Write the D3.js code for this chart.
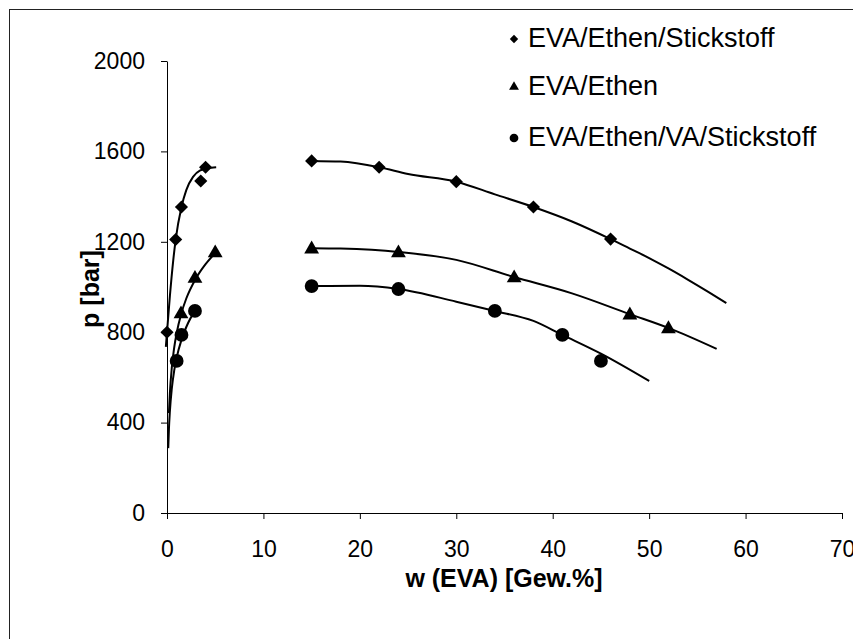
<!DOCTYPE html>
<head>
  <meta charset="utf-8">
  <script src="https://d3js.org/d3.v7.min.js"></script>
  <style>
    body { margin: 0; background: #fff; }
    svg { display: block; }
    .tick text { font: 23px "Liberation Sans", Arial, sans-serif; fill: #000; }
    .axis-title { font: bold 25px "Liberation Sans", Arial, sans-serif; }
    .legend text { font: 27px "Liberation Sans", Arial, sans-serif; }
    .fit { fill: none; stroke: #000; stroke-width: 2px; }
  </style>
</head>
<body>
<script>
// measured points
var diamondX  = [0, 0.9, 1.5, 3.5, 4, 15, 22, 30, 38, 46];
var diamondP  = [800, 1210, 1354, 1469, 1530, 1558, 1530, 1466, 1354, 1212];
var triangleX = [1.45, 2.9, 5, 15, 24, 36, 48, 52];
var triangleP = [885, 1042, 1155, 1172, 1155, 1044, 880, 819];
var circleX   = [1, 1.5, 2.9, 15, 24, 34, 41, 45];
var circleP   = [673, 788, 894, 1004, 991, 894, 788, 673];

// trend lines
var diamondFitLeftX  = [-0.12, 0, 0.3, 0.65, 0.9, 1.5, 2, 2.7, 3.4, 4.6, 5.1];
var diamondFitLeftP  = [735, 800, 960, 1119, 1210, 1354, 1429, 1487, 1515, 1528, 1530];
var diamondFitRightX = [15, 18, 22, 25, 30, 34, 38, 42, 46, 48, 50, 52, 54, 56, 58];
var diamondFitRightP = [1558, 1555, 1530, 1500, 1466, 1410, 1354, 1290, 1212, 1170, 1128, 1082, 1033, 982, 929];

var triangleFitLeftX  = [0.2, 0.3, 0.5, 0.75, 1, 1.5, 2, 3, 4, 5];
var triangleFitLeftP  = [442, 531, 644, 733, 796, 885, 949, 1038, 1101, 1150];
var triangleFitRightX = [15, 18, 24, 30, 36, 42, 48, 52, 57];
var triangleFitRightP = [1172, 1170, 1155, 1120, 1044, 972, 880, 819, 726];

var circleFitLeftX  = [0.13, 0.2, 0.3, 0.5, 0.75, 1, 1.5, 2, 3];
var circleFitLeftP  = [287, 372, 451, 551, 631, 687, 766, 823, 902];
var circleFitRightX = [15, 20, 24, 30, 34, 38, 41, 45, 50];
var circleFitRightP = [1004, 1005, 991, 935, 894, 850, 788, 705, 584];

var xTicks = [0, 10, 20, 30, 40, 50, 60, 70];
var yTicks = [0, 400, 800, 1200, 1600, 2000];

var legendLabels = ['EVA/Ethen/Stickstoff', 'EVA/Ethen', 'EVA/Ethen/VA/Stickstoff'];

var width = 853, height = 639;

var svg = d3.select('body').append('svg')
  .attr('width', width)
  .attr('height', height);

// outer frame (only left and top edges visible)
svg.append('rect')
  .attr('x', 9.5).attr('y', 9.5)
  .attr('width', 1000).attr('height', 1000)
  .attr('fill', 'none')
  .attr('stroke', '#222')
  .attr('stroke-width', 1);

var x = d3.scaleLinear().domain([0, 70]).range([167, 842]);
var y = d3.scaleLinear().domain([0, 2000]).range([513, 61]);

var xAxis = d3.axisBottom(x).tickValues(xTicks).tickSize(6).tickPadding(22)
  .tickSizeOuter(0).tickFormat(d3.format('d'));
var yAxis = d3.axisLeft(y).tickValues(yTicks).tickSize(6).tickPadding(16)
  .tickSizeOuter(0).tickFormat(d3.format('d'));

svg.append('g').attr('transform', 'translate(0,513)').call(xAxis);
svg.append('g').attr('transform', 'translate(167,0)').call(yAxis);
svg.selectAll('.domain').attr('stroke', '#000');
svg.selectAll('.tick line').attr('stroke', '#000');

svg.append('text')
  .attr('class', 'axis-title')
  .attr('x', 504).attr('y', 587)
  .attr('text-anchor', 'middle')
  .text('w (EVA) [Gew.%]');

svg.append('text')
  .attr('class', 'axis-title')
  .attr('transform', 'translate(99,289) rotate(-90)')
  .attr('text-anchor', 'middle')
  .text('p [bar]');

var line = d3.line()
  .x(function(d) { return x(d[0]); })
  .y(function(d) { return y(d[1]); })
  .curve(d3.curveMonotoneX);

function pairs(xs, ps) { return xs.map(function(v, i) { return [v, ps[i]]; }); }

var fits = [
  pairs(diamondFitLeftX, diamondFitLeftP),
  pairs(diamondFitRightX, diamondFitRightP),
  pairs(triangleFitLeftX, triangleFitLeftP),
  pairs(triangleFitRightX, triangleFitRightP),
  pairs(circleFitLeftX, circleFitLeftP),
  pairs(circleFitRightX, circleFitRightP)
];

svg.selectAll('path.fit')
  .data(fits)
  .enter().append('path')
  .attr('class', 'fit')
  .attr('d', line);

var sym = {
  diamond: d3.symbol().type(d3.symbolDiamond2).size(110),
  triangle: d3.symbol().type(d3.symbolTriangle).size(95),
  circle: d3.symbol().type(d3.symbolCircle).size(150)
};

function drawMarks(xs, ps, shape, dy) {
  svg.append('g').selectAll('path')
    .data(pairs(xs, ps))
    .enter().append('path')
    .attr('transform', function(d) { return 'translate(' + x(d[0]) + ',' + (y(d[1]) + dy) + ')'; })
    .attr('d', sym[shape])
    .attr('fill', '#000');
}
drawMarks(diamondX, diamondP, 'diamond', 0);
drawMarks(triangleX, triangleP, 'triangle', 1);
drawMarks(circleX, circleP, 'circle', 0);

// legend
var legendShapes = ['diamond', 'triangle', 'circle'];
var legendSyms = {
  diamond: d3.symbol().type(d3.symbolDiamond2).size(45),
  triangle: d3.symbol().type(d3.symbolTriangle).size(42),
  circle: d3.symbol().type(d3.symbolCircle).size(60)
};
var legendY = [37, 85, 136];
var legend = svg.append('g').attr('class', 'legend');
legendLabels.forEach(function(lbl, i) {
  legend.append('path')
    .attr('transform', 'translate(514,' + (legendY[i] + 2) + ')')
    .attr('d', legendSyms[legendShapes[i]])
    .attr('fill', '#000');
  legend.append('text')
    .attr('x', 528).attr('y', legendY[i])
    .attr('dy', '0.36em')
    .text(lbl);
});
</script>
</body>
